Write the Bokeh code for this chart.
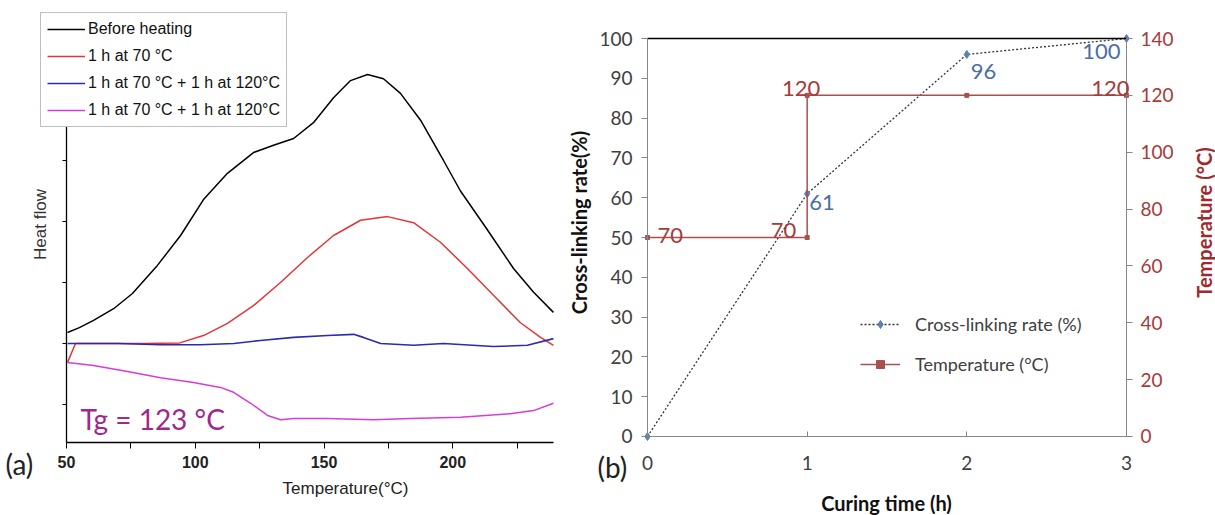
import math
from bokeh.plotting import figure
from bokeh.models import Range1d, LinearAxis, FixedTicker, Legend, LegendItem, Label
from bokeh.layouts import row
from bokeh.embed import file_html
from bokeh.resources import INLINE

# ---------------- Panel (a): DSC heat flow ----------------
series_labels = ["Before heating", "1 h at 70 °C",
                 "1 h at 70 °C + 1 h at 120°C", "1 h at 70 °C + 1 h at 120°C"]

before_T = [50.4, 55, 60.5, 68.3, 75.6, 85.3, 94.3, 103.2, 112.5, 122.6, 130.4, 138.2,
            145.9, 153.7, 160.3, 166.9, 173.1, 179.7, 187.5, 196.4, 203.0, 213.5,
            223.6, 231.4, 239.1]
before_H = [0.18, 0.26, 0.38, 0.57, 0.82, 1.28, 1.77, 2.36, 2.79, 3.13, 3.25, 3.36,
            3.62, 4.03, 4.31, 4.41, 4.34, 4.10, 3.66, 3.00, 2.50, 1.86,
            1.23, 0.84, 0.51]

h70_T = [50.4, 53.5, 60, 80, 94, 103.2, 112.5, 122.6, 133.1, 143.6, 153.7, 164.2,
         174.7, 184.8, 195.2, 205.7, 215.8, 226.3, 234.1, 239.1]
h70_H = [-0.31, 0.0, 0.0, 0.0, 0.01, 0.13, 0.33, 0.62, 1.0, 1.41, 1.77, 2.02,
         2.08, 1.98, 1.66, 1.23, 0.79, 0.34, 0.10, -0.03]

h120_T = [50.4, 70, 86.5, 102.0, 115, 125.3, 138.2, 151.4, 161.5, 165.3, 172.0,
          184.8, 196.4, 215.8, 229.0, 239.1]
h120_H = [0.0, 0.0, -0.02, -0.02, 0.0, 0.05, 0.10, 0.13, 0.15, 0.10, 0.0,
          -0.03, 0.0, -0.05, -0.03, 0.08]

tg_T = [50.4, 60.5, 73.7, 86.5, 99.3, 109.8, 114.9, 121.5, 128.1, 133.1, 138.2,
        151.4, 169.2, 183.6, 203.0, 222.4, 231.4, 239.1]
tg_H = [-0.31, -0.36, -0.46, -0.56, -0.64, -0.72, -0.80, -0.98, -1.18, -1.25, -1.23,
        -1.23, -1.25, -1.23, -1.21, -1.15, -1.10, -0.98]

temp_ticks_a = [50, 100, 150, 200]
temp_minor_a = [75, 125, 175, 225]
heat_ticks = [-1, 0, 1, 2, 3, 4, 5]
T_BOUNDS = (50, 239.13)
H_BOUNDS = (-1.623, 5.3)

# ---------------- Panel (b): curing ----------------
cure_time = [0, 1, 2, 3]
cross_rate = [0, 61, 96, 100]
temp_time = [0, 1, 1, 2, 3]
temp_value = [70, 70, 120, 120, 120]
time_ticks = [0, 1, 2, 3]
rate_ticks = list(range(0, 101, 10))
temp_ticks = list(range(0, 141, 20))

SANS = "Liberation Sans"
CAL = "Lato"
H = 515

# ===== figure (a): frame fills the canvas, axes placed with fixed_location =====
p1 = figure(width=568, height=H, x_range=Range1d(24.37, 244.95), y_range=Range1d(-2.820, 5.623),
            output_backend="svg", toolbar_location=None, min_border=0,
            min_border_left=0, min_border_right=0, min_border_top=0, min_border_bottom=0)
p1.frame_align = False
p1.outline_line_color = None
p1.grid.visible = False

r_before = p1.line(before_T, before_H, line_color="black", line_width=1.5)
r_70 = p1.line(h70_T, h70_H, line_color="#E4353A", line_width=1.5)
r_120 = p1.line(h120_T, h120_H, line_color="#2B2BB0", line_width=1.6)
r_tg = p1.line(tg_T, tg_H, line_color="#D83CD8", line_width=1.5)

xa = p1.xaxis[0]
xa.fixed_location = H_BOUNDS[0]
xa.bounds = T_BOUNDS
xa.ticker = FixedTicker(ticks=temp_ticks_a, minor_ticks=temp_minor_a)
xa.axis_line_color = "black"
xa.axis_line_width = 1.3
xa.major_tick_out = 6
xa.major_tick_in = 0
xa.minor_tick_out = 6
xa.minor_tick_in = 0
xa.major_tick_line_color = "black"
xa.minor_tick_line_color = "black"
xa.major_label_text_font = SANS
xa.major_label_text_font_size = "16px"
xa.major_label_text_font_style = "bold"
xa.major_label_text_color = "#222222"
xa.major_label_standoff = 8

ya = p1.yaxis[0]
ya.fixed_location = T_BOUNDS[0]
ya.bounds = H_BOUNDS
ya.ticker = FixedTicker(ticks=heat_ticks)
ya.axis_line_color = "black"
ya.axis_line_width = 1.3
ya.major_tick_out = 4
ya.major_tick_in = 0
ya.minor_tick_out = 0
ya.minor_tick_in = 0
ya.major_tick_line_color = "black"
ya.major_label_text_color = None
ya.major_label_standoff = 0

p1.add_layout(Label(x=345, y=27, x_units="screen", y_units="screen", text="Temperature(°C)",
                    text_font=SANS, text_font_size="17px", text_color="#222222",
                    text_align="center", text_baseline="middle"))
p1.add_layout(Label(x=40, y=291, x_units="screen", y_units="screen", text="Heat flow",
                    angle=math.pi / 2, text_font=SANS, text_font_size="17px",
                    text_color="#333333", text_align="center", text_baseline="middle"))

leg_a = Legend(items=[LegendItem(label=series_labels[0], renderers=[r_before]),
                      LegendItem(label=series_labels[1], renderers=[r_70]),
                      LegendItem(label=series_labels[2], renderers=[r_120]),
                      LegendItem(label=series_labels[3], renderers=[r_tg])],
               location=(40, 388))
leg_a.border_line_color = "#7f7f7f"
leg_a.border_line_width = 1.5
leg_a.background_fill_color = "white"
leg_a.background_fill_alpha = 1
leg_a.padding = 6
leg_a.spacing = 7
leg_a.margin = 0
leg_a.glyph_width = 38
leg_a.glyph_height = 20
leg_a.label_height = 20
leg_a.label_standoff = 3
leg_a.label_text_font = SANS
leg_a.label_text_font_size = "16px"
leg_a.label_text_color = "#111111"
p1.add_layout(leg_a)

p1.add_layout(Label(x=55.4, y=-1.23, text="Tg = 123 °C", text_font=CAL, text_font_size="28px",
                    text_color="#A0288C", text_baseline="alphabetic", text_align="left"))
p1.add_layout(Label(x=5, y=52, x_units="screen", y_units="screen", text="(a)",
                    text_font=CAL, text_font_size="28px", text_color="#222222",
                    text_baseline="middle", text_align="left"))

# ===== figure (b) =====
p2 = figure(width=647, height=H, x_range=Range1d(-0.4948, 3.5574), y_range=Range1d(-19.85, 109.55),
            output_backend="svg", toolbar_location=None, min_border=0,
            min_border_left=0, min_border_right=0, min_border_top=0, min_border_bottom=0)
p2.frame_align = False
p2.extra_y_ranges = {"temp": Range1d(-27.79, 153.37)}
p2.outline_line_color = None
p2.grid.visible = False

GRAY_AX = "#868686"
RED = "#A8504E"
RED_TXT = "#A83A3A"
BLUE_TXT = "#4A70A0"
TIME_BOUNDS = (0, 3)

r_rate_line = p2.line(cure_time, cross_rate, line_color="#333333", line_width=1.3, line_dash="2 2")
r_rate_pts = p2.scatter(cure_time, cross_rate, marker="diamond", size=8, color="#5B7FB0")
r_temp_line = p2.line(temp_time, temp_value, y_range_name="temp", line_color=RED, line_width=1.5)
r_temp_pts = p2.scatter(temp_time, temp_value, y_range_name="temp", marker="square", size=4, color=RED)

xb = p2.xaxis[0]
xb.fixed_location = rate_ticks[0]
xb.bounds = TIME_BOUNDS
xb.ticker = FixedTicker(ticks=time_ticks)
xb.axis_line_color = GRAY_AX
xb.major_tick_line_color = GRAY_AX
xb.major_tick_in = 5
xb.major_tick_out = 0
xb.minor_tick_in = 0
xb.minor_tick_out = 0
xb.major_label_standoff = 20
xb.major_label_text_font = CAL
xb.major_label_text_font_size = "19px"
xb.major_label_text_color = "#404040"

# top border line at 100 %
top = LinearAxis(fixed_location=rate_ticks[-1], bounds=TIME_BOUNDS, ticker=FixedTicker(ticks=[]))
top.axis_line_color = "black"
top.axis_line_width = 1.5
top.major_tick_out = 0
top.major_tick_in = 0
top.minor_tick_out = 0
top.minor_tick_in = 0
top.major_label_text_color = None
p2.add_layout(top, "above")

yb = p2.yaxis[0]
yb.fixed_location = TIME_BOUNDS[0]
yb.bounds = (rate_ticks[0], rate_ticks[-1])
yb.ticker = FixedTicker(ticks=rate_ticks)
yb.axis_line_color = GRAY_AX
yb.major_tick_line_color = GRAY_AX
yb.major_tick_out = 6
yb.major_tick_in = 0
yb.minor_tick_in = 0
yb.minor_tick_out = 0
yb.major_label_standoff = 9
yb.major_label_text_font = CAL
yb.major_label_text_font_size = "19px"
yb.major_label_text_color = "#404040"

yt = LinearAxis(y_range_name="temp", ticker=FixedTicker(ticks=temp_ticks),
                fixed_location=TIME_BOUNDS[1], bounds=(temp_ticks[0], temp_ticks[-1]))
yt.axis_line_color = GRAY_AX
yt.major_tick_line_color = GRAY_AX
yt.major_tick_out = 6
yt.major_tick_in = 0
yt.minor_tick_in = 0
yt.minor_tick_out = 0
yt.major_label_standoff = 8
yt.major_label_text_font = CAL
yt.major_label_text_font_size = "19px"
yt.major_label_text_color = RED_TXT
p2.add_layout(yt, "right")

p2.add_layout(Label(x=318, y=13, x_units="screen", y_units="screen", text="Curing time (h)",
                    text_font=CAL, text_font_size="20px", text_font_style="bold",
                    text_color="#111111", text_align="center", text_baseline="middle"))
p2.add_layout(Label(x=10, y=293, x_units="screen", y_units="screen", text="Cross-linking rate(%)",
                    angle=math.pi / 2, text_font=CAL, text_font_size="20px", text_font_style="bold",
                    text_color="#111111", text_align="center", text_baseline="middle"))
p2.add_layout(Label(x=635, y=293, x_units="screen", y_units="screen", text="Temperature (°C)",
                    angle=math.pi / 2, text_font=CAL, text_font_size="20px", text_font_style="bold",
                    text_color="#A0282C", text_align="center", text_baseline="middle"))

lab_kw = dict(text_font=CAL, text_font_size="22px")
p2.add_layout(Label(x=temp_time[0], y=temp_value[0], y_range_name="temp", text=str(temp_value[0]),
                    x_offset=10, y_offset=2, text_align="left", text_baseline="alphabetic",
                    text_color=RED_TXT, **lab_kw))
p2.add_layout(Label(x=temp_time[1], y=temp_value[1], y_range_name="temp", text=str(temp_value[1]),
                    x_offset=-11, y_offset=7, text_align="right", text_baseline="alphabetic",
                    text_color=RED_TXT, **lab_kw))
p2.add_layout(Label(x=temp_time[2], y=temp_value[2], y_range_name="temp", text=str(temp_value[2]),
                    x_offset=-6, y_offset=7, text_align="center", text_baseline="alphabetic",
                    text_color=RED_TXT, **lab_kw))
p2.add_layout(Label(x=temp_time[4], y=temp_value[4], y_range_name="temp", text=str(temp_value[4]),
                    x_offset=3, y_offset=7, text_align="right", text_baseline="alphabetic",
                    text_color=RED_TXT, **lab_kw))
p2.add_layout(Label(x=cure_time[1], y=cross_rate[1], text=str(cross_rate[1]),
                    x_offset=2, y_offset=-1, text_align="left", text_baseline="top",
                    text_color=BLUE_TXT, **lab_kw))
p2.add_layout(Label(x=cure_time[2], y=cross_rate[2], text=str(cross_rate[2]),
                    x_offset=4, y_offset=-10, text_align="left", text_baseline="top",
                    text_color=BLUE_TXT, **lab_kw))
p2.add_layout(Label(x=cure_time[3], y=cross_rate[3], text=str(cross_rate[3]),
                    x_offset=-6, y_offset=-5, text_align="right", text_baseline="top",
                    text_color=BLUE_TXT, **lab_kw))

leg_b = Legend(items=[LegendItem(label="Cross-linking rate (%)", renderers=[r_rate_line, r_rate_pts]),
                      LegendItem(label="Temperature (°C)", renderers=[r_temp_line, r_temp_pts])],
               location=(292, 140))
leg_b.border_line_color = None
leg_b.background_fill_alpha = 0
leg_b.padding = 0
leg_b.margin = 0
leg_b.spacing = 18
leg_b.glyph_width = 40
leg_b.glyph_height = 20
leg_b.label_height = 20
leg_b.label_standoff = 15
leg_b.label_text_font = CAL
leg_b.label_text_font_size = "18px"
leg_b.label_text_color = "#404040"
p2.add_layout(leg_b)

p2.add_layout(Label(x=29, y=49, x_units="screen", y_units="screen", text="(b)",
                    text_font=CAL, text_font_size="28px", text_color="#222222",
                    text_baseline="middle", text_align="left"))

layout = row(p1, p2)
open("out.html", "w").write(file_html(layout, INLINE))
